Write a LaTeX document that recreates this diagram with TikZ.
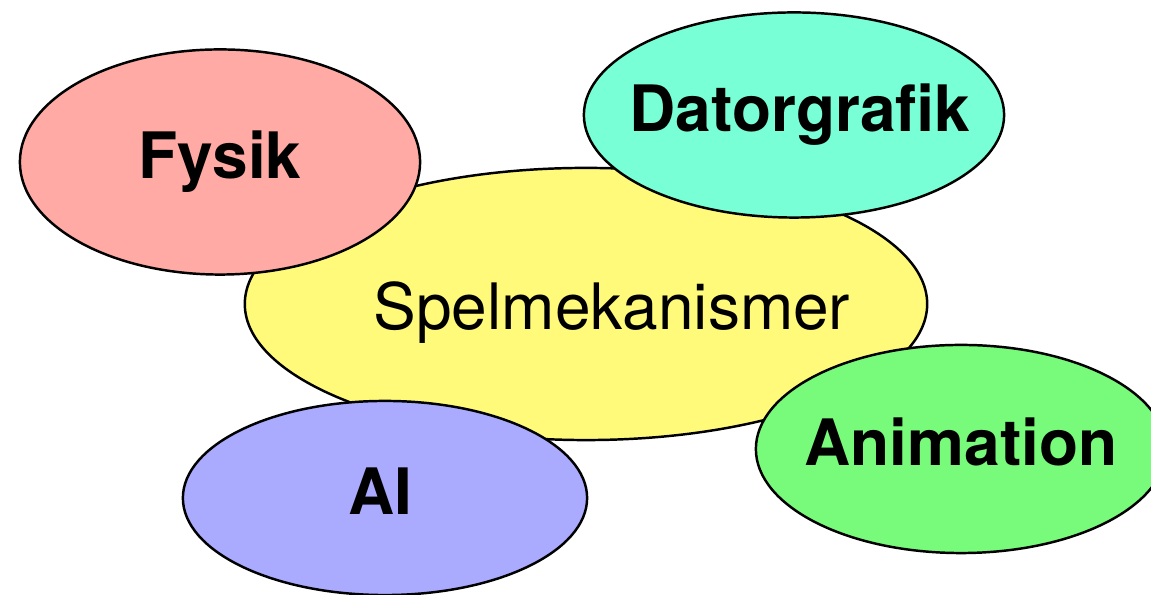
\documentclass[tikz,border=0pt]{standalone}
\usepackage{fontspec}
\setmainfont{TeX Gyre Heros}
\usetikzlibrary{shapes.geometric,positioning}
\definecolor{spelyellow}{RGB}{255,250,122}
\definecolor{fysikred}{RGB}{255,170,165}
\definecolor{grafikcyan}{RGB}{120,255,214}
\definecolor{aiblue}{RGB}{170,170,255}
\definecolor{animgreen}{RGB}{120,250,122}

\begin{document}
\begin{tikzpicture}[x=0.01cm, y=-0.01cm,
    blob/.style={ellipse, draw=black, line width=0.7pt, inner sep=0pt},
    topictext/.style={font=\fontsize{18.2}{22}\selectfont\bfseries,
        inner sep=0pt, text height=13pt, text depth=3.8pt}]
    \useasboundingbox (0,0) rectangle (1151,595);
    \clip (0,0) rectangle (1151,595);
    % Centre
    \node[blob, fill=spelyellow, minimum width=6.82cm, minimum height=2.72cm] (spel) at (586,304) {};
    \node[anchor=base, font=\fontsize{18.2}{22}\selectfont] (spellabel) at (612,330) {Spelmekanismer};
    % Topics round it
    \node[blob, fill=fysikred, minimum width=4cm, minimum height=2.25cm] (fysik) at (220,162) {};
    \node[topictext] (fysiklabel) at (fysik) {Fysik};
    \node[blob, fill=grafikcyan, minimum width=4.2cm, minimum height=2.05cm] (grafik) at (794,115) {};
    \node[topictext] (grafiklabel) at (800,115) {Datorgrafik};
    \node[blob, fill=aiblue, minimum width=4.04cm, minimum height=1.94cm] (ai) at (385,498) {};
    \node[topictext] (ailabel) at (380,498) {AI};
    \node[blob, fill=animgreen, minimum width=4.1cm, minimum height=2.08cm] (anim) at (961,449) {};
    \node[topictext] (animlabel) at (anim) {Animation};
\end{tikzpicture}
\end{document}
